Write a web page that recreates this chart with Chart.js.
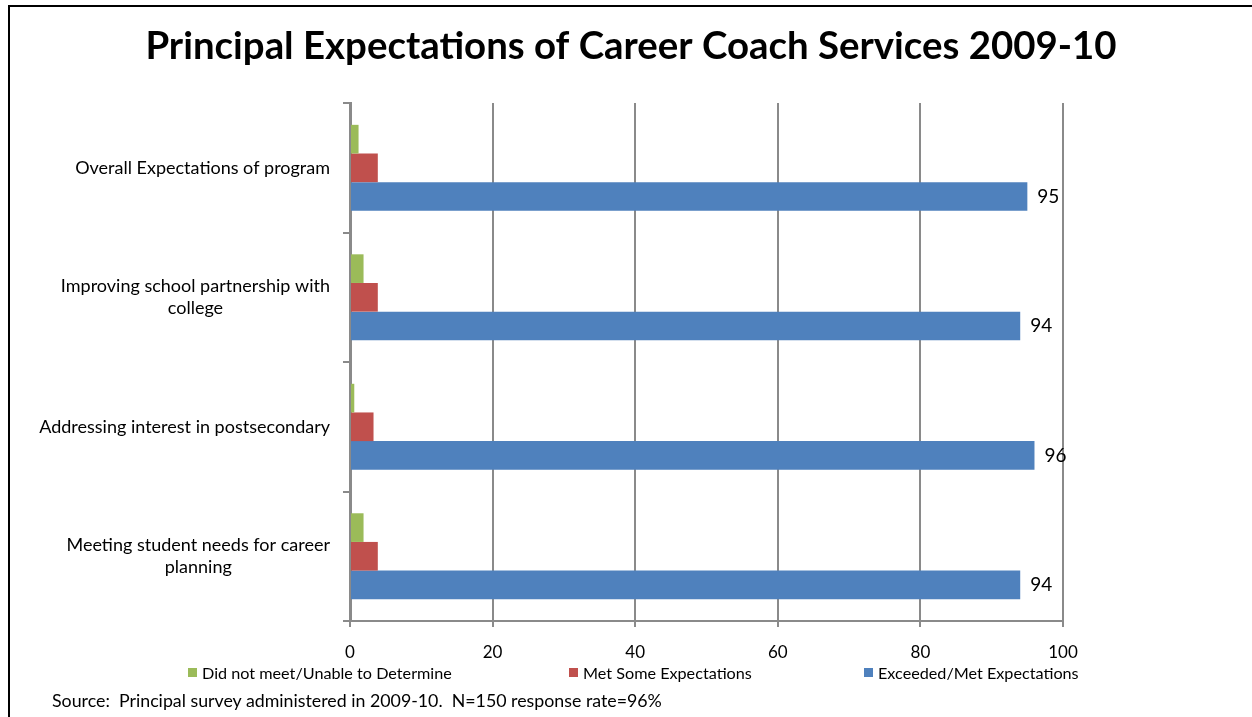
<!DOCTYPE html>
<html>
<head>
<meta charset="utf-8">
<script src="https://cdn.jsdelivr.net/npm/chart.js@4"></script>
<style>
  html, body { margin: 0; padding: 0; background: #fff; }
  #wrap { position: relative; width: 1252px; height: 717px; overflow: hidden; font-family: Lato, sans-serif; }
  #frame { position: absolute; left: 8px; top: 5px; right: -4px; bottom: -4px;
           border-left: 2px solid #000; border-top: 2px solid #000; pointer-events: none; }
  #chart { position: absolute; left: 0; top: 0; }
  .legend-item { position: absolute; top: 663px; display: flex; align-items: center;
                 font-size: 16.2px; color: #000; white-space: nowrap; }
  .legend-box { width: 9px; height: 9px; margin-right: 5px; }
  #source { position: absolute; left: 52px; top: 689px; font-size: 17.8px; color: #000; white-space: pre; }
</style>
</head>
<body>
<div id="wrap">
  <canvas id="chart" width="1252" height="717"></canvas>
  <div id="legend"></div>
  <div id="source">Source:  Principal survey administered in 2009-10.  N=150 response rate=96%</div>
  <div id="frame"></div>
</div>
<script>
// Survey questions (one entry per row, multi-line where the label wraps)
const categories = [
  ['Overall Expectations of program'],
  ['Improving school partnership with', 'college'],
  ['Addressing interest in postsecondary'],
  ['Meeting student needs for career', 'planning']
];

// Percent of principals in each response group
const didNotMeet = [1.2, 1.9, 0.6, 1.9];
const metSome = [3.9, 3.9, 3.3, 3.9];
const exceededMet = [95, 94, 96, 94];

const seriesNames = ['Did not meet/Unable to Determine', 'Met Some Expectations', 'Exceeded/Met Expectations'];
const seriesColors = ['#9BBB59', '#C0504D', '#4F81BD'];

// Percent axis
const axisMin = 0;
const axisMax = 100;
const axisStep = 20;

const titleText = 'Principal Expectations of Career Coach Services 2009-10';

const gridGray = '#8a8a8a';

// Category axis whose wrapped labels stay right-aligned as a block,
// with the lines of each block centred on one another.
class BlockCategoryScale extends Chart.CategoryScale {
  _computeLabelItems(chartArea) {
    const items = super._computeLabelItems(chartArea);
    const ctx = this.ctx;
    items.forEach(item => {
      const lines = Array.isArray(item.label) ? item.label : [item.label];
      if (lines.length < 2) return;
      ctx.save();
      ctx.font = item.font.string;
      const w = Math.max(...lines.map(l => ctx.measureText(l).width));
      ctx.restore();
      const [tx, ty] = item.options.translation;
      item.options.textAlign = 'center';
      item.options.translation = [tx - w / 2, ty];
    });
    return items;
  }
}
BlockCategoryScale.id = 'blockCategory';
BlockCategoryScale.defaults = Chart.CategoryScale.defaults;
Chart.register(BlockCategoryScale);

// Value labels at the end of the "Exceeded/Met" bars
const valueLabels = {
  id: 'valueLabels',
  afterDatasetsDraw(chart) {
    const ctx = chart.ctx;
    const meta = chart.getDatasetMeta(2);
    const values = chart.data.datasets[2].data;
    ctx.save();
    ctx.font = '19px Lato';
    ctx.fillStyle = '#000';
    ctx.textAlign = 'left';
    ctx.textBaseline = 'middle';
    meta.data.forEach((bar, i) => {
      ctx.fillText(String(values[i]), bar.x + 10, bar.y);
    });
    ctx.restore();
  }
};

const chart = new Chart(document.getElementById('chart'), {
  type: 'bar',
  data: {
    labels: categories,
    datasets: [
      { label: seriesNames[0], data: didNotMeet, backgroundColor: seriesColors[0] },
      { label: seriesNames[1], data: metSome, backgroundColor: seriesColors[1] },
      { label: seriesNames[2], data: exceededMet, backgroundColor: seriesColors[2] }
    ]
  },
  options: {
    indexAxis: 'y',
    responsive: false,
    animation: false,
    events: [],
    datasets: {
      bar: { categoryPercentage: 0.664, barPercentage: 1.0 }
    },
    layout: { padding: { left: 10, right: 0, top: 0, bottom: 56 } },
    plugins: {
      legend: { display: false },
      tooltip: { enabled: false },
      title: {
        display: true,
        text: titleText,
        color: '#000',
        font: { family: 'Lato', size: 38.4, weight: 'bold', lineHeight: 1.2 },
        padding: { top: 24, bottom: 33 }
      }
    },
    scales: {
      x: {
        min: axisMin,
        max: axisMax,
        ticks: {
          stepSize: axisStep,
          color: '#000',
          font: { family: 'Lato', size: 17 },
          padding: 15
        },
        grid: { color: gridGray, lineWidth: 2, tickLength: 6 },
        border: { color: gridGray, width: 2 },
        afterFit(scale) { scale.height = 40; }
      },
      y: {
        type: 'blockCategory',
        offset: true,
        ticks: {
          color: '#000',
          font: { family: 'Lato', size: 18, lineHeight: 1.22 },
          padding: 13,
          autoSkip: false
        },
        grid: { display: true, drawOnChartArea: false, color: gridGray, lineWidth: 2, tickLength: 7, offset: true },
        border: { color: gridGray, width: 3 },
        afterFit(scale) { scale.width = 340; }
      },
      // empty margin on the right, where the value labels sit
      rightMargin: {
        type: 'linear',
        position: 'right',
        display: true,
        ticks: { display: false },
        grid: { display: false },
        border: { display: false },
        afterFit(scale) { scale.width = 189; }
      }
    }
  },
  plugins: [valueLabels]
});

// Legend row built from the chart's own legend items
const legendLefts = [188, 569, 864];
const legendEl = document.getElementById('legend');
chart.options.plugins.legend.labels.generateLabels(chart).forEach((item, i) => {
  const el = document.createElement('div');
  el.className = 'legend-item';
  el.style.left = legendLefts[i] + 'px';
  const box = document.createElement('span');
  box.className = 'legend-box';
  box.style.background = item.fillStyle;
  const txt = document.createElement('span');
  txt.textContent = item.text;
  el.appendChild(box);
  el.appendChild(txt);
  legendEl.appendChild(el);
});
</script>
</body>
</html>
